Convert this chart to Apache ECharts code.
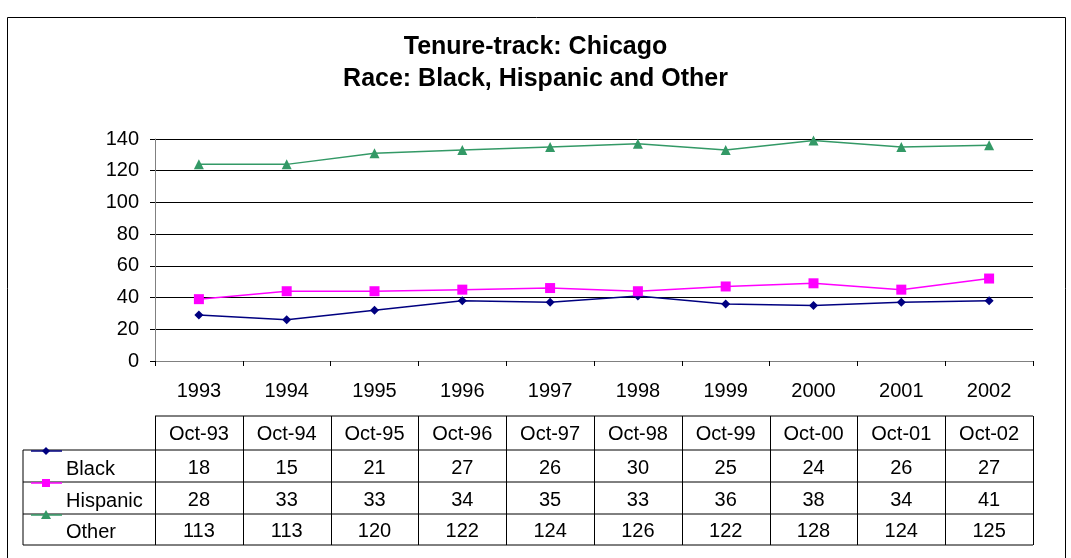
<!DOCTYPE html>
<html lang="en">
<head>
<meta charset="UTF-8">
<title>Tenure-track: Chicago</title>
<script src="https://cdn.jsdelivr.net/npm/echarts@6/dist/echarts.min.js"></script>
<style>
html,body{margin:0;padding:0;background:#fff;}
#chartBox{width:1071px;height:558px;}
</style>
</head>
<body>
<div id="chartBox"></div>
<script>
// categories & table header
const years = ['1993','1994','1995','1996','1997','1998','1999','2000','2001','2002'];
const months = ['Oct-93','Oct-94','Oct-95','Oct-96','Oct-97','Oct-98','Oct-99','Oct-00','Oct-01','Oct-02'];

// plotted values
const blackLine = [29, 26, 32, 38, 37, 41, 36, 35, 37, 38];
const hispanicLine = [39, 44, 44, 45, 46, 44, 47, 49, 45, 52];
const otherLine = [124, 124, 131, 133, 135, 137, 133, 139, 135, 136];

// values printed in the data table
const blackTable = [18, 15, 21, 27, 26, 30, 25, 24, 26, 27];
const hispanicTable = [28, 33, 33, 34, 35, 33, 36, 38, 34, 41];
const otherTable = [113, 113, 120, 122, 124, 126, 122, 128, 124, 125];

const FONT = 'Liberation Sans, Arial, sans-serif';
const seriesDefs = [
    {name: 'Black', color: '#000080', symbol: 'diamond', size: 9, line: blackLine, table: blackTable},
    {name: 'Hispanic', color: '#FF00FF', symbol: 'rect', size: 10, line: hispanicLine, table: hispanicTable},
    {name: 'Other', color: '#339966', symbol: 'triangle', size: 10, line: otherLine, table: otherTable}
];

let chartObj = echarts.init(document.getElementById('chartBox'));

chartObj.setOption({
    animation: false,
    backgroundColor: '#fff',
    title: {
        text: 'Tenure-track: Chicago\nRace: Black, Hispanic and Other',
        left: 'center',
        top: 26,
        textStyle: {fontFamily: FONT, fontSize: 25, fontWeight: 'bold', color: '#000', lineHeight: 32}
    },
    grid: {left: 155, right: 38, top: 139, bottom: 197},
    xAxis: {
        type: 'category',
        data: years,
        boundaryGap: true,
        axisLine: {lineStyle: {color: '#808080', width: 1}},
        axisTick: {show: true, length: 5, lineStyle: {color: '#000'}},
        axisLabel: {fontFamily: FONT, fontSize: 20, color: '#000', margin: 20}
    },
    yAxis: {
        type: 'value',
        min: 0,
        max: 140,
        interval: 20,
        axisLine: {show: true, lineStyle: {color: '#808080'}},
        axisTick: {show: true, inside: false, length: 5, lineStyle: {color: '#000'}},
        axisLabel: {fontFamily: FONT, fontSize: 20, color: '#000', margin: 16},
        splitLine: {lineStyle: {color: '#000', width: 1}}
    },
    series: seriesDefs.map(s => ({
        type: 'line',
        name: s.name,
        data: s.line,
        symbol: s.symbol,
        symbolSize: s.size,
        itemStyle: {color: s.color},
        lineStyle: {color: s.color, width: 1.5}
    }))
});

// data table under the chart, aligned with the category bands
function buildTable() {
    const x0 = chartObj.convertToPixel({xAxisIndex: 0}, 0);
    const x1 = chartObj.convertToPixel({xAxisIndex: 0}, 1);
    const band = x1 - x0;
    const left = x0 - band / 2;
    const right = left + band * years.length;
    const labelLeft = 23;
    const rows = [416, 450, 482, 514, 545];
    const els = [];
    const ls = {stroke: '#000', lineWidth: 1};
    const font = '20px ' + FONT;

    // horizontal rules
    els.push({type: 'line', shape: {x1: left, y1: rows[0], x2: right, y2: rows[0]}, style: ls});
    for (let r = 1; r < rows.length; r++) {
        els.push({type: 'line', shape: {x1: labelLeft, y1: rows[r], x2: right, y2: rows[r]}, style: ls});
    }
    // vertical rules
    els.push({type: 'line', shape: {x1: labelLeft, y1: rows[1], x2: labelLeft, y2: rows[4]}, style: ls});
    for (let c = 0; c <= years.length; c++) {
        let x = Math.round(left + band * c) + 0.5;
        els.push({type: 'line', shape: {x1: x, y1: rows[0], x2: x, y2: rows[4]}, style: ls});
    }
    // header cells
    months.forEach((m, i) => {
        els.push({type: 'text', x: left + band * (i + 0.5), y: (rows[0] + rows[1]) / 2 + 1,
            style: {text: m, font: font, fill: '#000', align: 'center', verticalAlign: 'middle'}});
    });
    // data rows
    seriesDefs.forEach((s, r) => {
        const top = rows[r + 1], bot = rows[r + 2];
        const mid = (top + bot) / 2 + 3;
        // legend key
        els.push({type: 'line', shape: {x1: 31, y1: top + 1, x2: 62, y2: top + 1},
            style: {stroke: s.color, lineWidth: 1.5}});
        let key;
        if (s.symbol === 'diamond') {
            key = {type: 'polygon', shape: {points: [[46, top - 3], [50, top + 1], [46, top + 5], [42, top + 1]]}};
        } else if (s.symbol === 'rect') {
            key = {type: 'rect', shape: {x: 42, y: top - 3, width: 8, height: 8}};
        } else {
            key = {type: 'polygon', shape: {points: [[46, top - 4], [51, top + 5], [41, top + 5]]}};
        }
        key.style = {fill: s.color};
        els.push(key);
        els.push({type: 'text', x: 66, y: mid,
            style: {text: s.name, font: font, fill: '#000', align: 'left', verticalAlign: 'middle'}});
        s.table.forEach((v, i) => {
            els.push({type: 'text', x: left + band * (i + 0.5), y: mid - 1,
                style: {text: String(v), font: font, fill: '#000', align: 'center', verticalAlign: 'middle'}});
        });
    });
    // outer frame of the chart
    els.push({type: 'rect', shape: {x: 7.5, y: 17.5, width: 1058, height: 560}, style: {fill: null, stroke: '#000', lineWidth: 1}});
    chartObj.setOption({graphic: {elements: els}});
}
buildTable();
</script>
</body>
</html>
